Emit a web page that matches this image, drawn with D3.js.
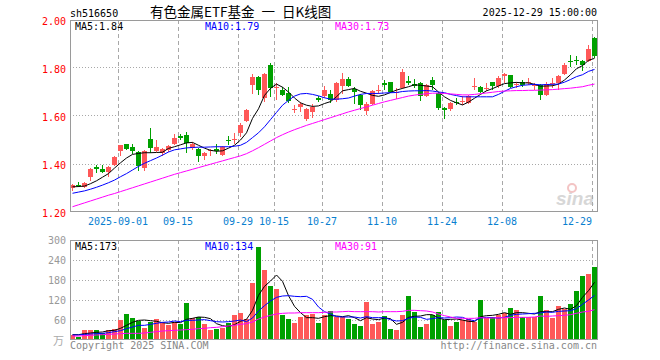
<!DOCTYPE html>
<html>
<head>
<meta charset="utf-8">
<script src="https://cdn.jsdelivr.net/npm/d3@7"></script>
<style>
  body { margin: 0; background: #fff; }
  text { font-family: "DejaVu Sans Mono", monospace; font-size: 10px; }
</style>
</head>
<body>
<div id="kline"></div>
<script>
// trading days shown (MM-DD), 2025-08-20 .. 2025-12-29
const days = [
  "08-20","08-21","08-22","08-25","08-26","08-27","08-28","08-29",
  "09-01","09-02","09-03","09-04","09-05","09-08","09-09","09-10","09-11","09-12",
  "09-15","09-16","09-17","09-18","09-19","09-22","09-23","09-24","09-25","09-26","09-29","09-30",
  "10-09","10-10","10-13","10-14","10-15","10-16","10-17","10-20","10-21","10-22","10-23","10-24",
  "10-27","10-28","10-29","10-30","10-31",
  "11-03","11-04","11-05","11-06","11-07","11-10","11-11","11-12","11-13","11-14",
  "11-17","11-18","11-19","11-20","11-21","11-24","11-25","11-26","11-27","11-28",
  "12-01","12-02","12-03","12-04","12-05","12-08","12-09","12-10","12-11","12-12",
  "12-15","12-16","12-17","12-18","12-19","12-22","12-23","12-24","12-25","12-26","12-29"
];

const open = [1.302,1.312,1.306,1.345,1.388,1.378,1.368,1.395,1.456,1.482,
  1.472,1.450,1.383,1.503,1.455,1.446,1.459,1.484,1.516,1.519,
  1.468,1.462,1.434,1.455,1.461,1.438,1.502,1.500,1.529,1.580,
  1.730,1.762,1.675,1.812,1.718,1.710,1.697,1.627,1.637,1.587,
  1.617,1.674,1.684,1.692,1.665,1.726,1.753,1.711,1.687,1.621,
  1.650,1.704,1.736,1.740,1.694,1.718,1.745,1.733,1.738,1.684,
  1.750,1.697,1.632,1.629,1.660,1.658,1.654,1.724,1.720,1.715,
  1.740,1.723,1.765,1.770,1.729,1.742,1.737,1.723,1.728,1.688,
  1.734,1.737,1.776,1.829,1.835,1.829,1.831,1.925];

const close = [1.312,1.308,1.320,1.380,1.380,1.366,1.388,1.428,1.478,1.462,
  1.456,1.393,1.455,1.466,1.470,1.462,1.474,1.509,1.508,1.487,
  1.483,1.434,1.445,1.460,1.455,1.472,1.499,1.503,1.562,1.624,
  1.763,1.709,1.773,1.716,1.721,1.686,1.663,1.630,1.650,1.628,
  1.636,1.668,1.710,1.665,1.738,1.753,1.726,1.702,1.647,1.650,
  1.703,1.710,1.730,1.701,1.700,1.782,1.739,1.727,1.684,1.728,
  1.730,1.633,1.626,1.655,1.654,1.661,1.683,1.727,1.702,1.718,
  1.723,1.760,1.775,1.719,1.735,1.730,1.742,1.728,1.688,1.735,
  1.737,1.766,1.812,1.825,1.831,1.813,1.881,1.851];

const high = [1.318,1.326,1.324,1.385,1.396,1.397,1.392,1.432,1.480,1.484,
  1.485,1.455,1.460,1.551,1.500,1.466,1.478,1.525,1.525,1.533,
  1.490,1.465,1.450,1.463,1.485,1.475,1.515,1.530,1.570,1.628,
  1.775,1.765,1.778,1.822,1.736,1.720,1.720,1.646,1.660,1.632,
  1.650,1.683,1.725,1.708,1.742,1.778,1.762,1.720,1.692,1.660,
  1.708,1.730,1.750,1.743,1.715,1.795,1.765,1.755,1.742,1.732,
  1.762,1.700,1.636,1.660,1.673,1.683,1.688,1.757,1.723,1.738,
  1.743,1.767,1.778,1.772,1.743,1.750,1.757,1.736,1.733,1.740,
  1.757,1.770,1.822,1.854,1.850,1.832,1.896,1.928];

const low = [1.288,1.304,1.302,1.330,1.362,1.362,1.347,1.390,1.432,1.458,
  1.440,1.370,1.372,1.445,1.452,1.434,1.452,1.480,1.500,1.447,
  1.458,1.410,1.417,1.434,1.440,1.435,1.480,1.485,1.514,1.575,
  1.690,1.688,1.660,1.680,1.667,1.683,1.655,1.611,1.618,1.580,
  1.590,1.657,1.674,1.655,1.660,1.690,1.720,1.650,1.625,1.603,
  1.645,1.690,1.708,1.695,1.672,1.712,1.730,1.715,1.664,1.680,
  1.710,1.625,1.588,1.620,1.646,1.645,1.650,1.710,1.695,1.703,
  1.708,1.716,1.738,1.715,1.716,1.722,1.729,1.708,1.667,1.683,
  1.715,1.708,1.772,1.805,1.812,1.789,1.826,1.840];

// volume, 万
const vol = [15,10,30,30,30,22,30,32,60,78,
  66,58,36,54,64,50,45,54,48,111,
  65,68,48,30,34,37,52,75,81,64,
  171,279,210,162,153,75,63,51,69,75,
  79,51,75,87,70,68,63,48,42,115,
  48,54,72,33,30,75,132,84,39,48,
  75,84,60,42,54,60,63,54,120,66,
  69,75,80,96,90,68,68,68,132,90,
  66,102,92,108,148,192,198,219];

const ma5 = [1.305,1.306,1.308,1.318,1.330,1.345,1.360,1.383,1.405,1.425,
  1.440,1.444,1.447,1.447,1.448,1.449,1.465,1.472,1.480,1.488,
  1.490,1.478,1.466,1.457,1.453,1.455,1.466,1.478,1.500,1.530,
  1.590,1.630,1.686,1.715,1.733,1.720,1.700,1.675,1.655,1.645,
  1.640,1.642,1.652,1.660,1.680,1.705,1.710,1.715,1.703,1.695,
  1.686,1.682,1.688,1.698,1.708,1.715,1.722,1.730,1.728,1.725,
  1.722,1.700,1.680,1.665,1.655,1.646,1.658,1.674,1.690,1.705,
  1.714,1.725,1.735,1.738,1.740,1.738,1.738,1.732,1.724,1.725,
  1.726,1.733,1.750,1.772,1.797,1.810,1.832,1.840];

const ma10 = [1.278,1.283,1.288,1.295,1.303,1.312,1.322,1.333,1.347,1.360,
  1.375,1.390,1.403,1.414,1.425,1.437,1.450,1.459,1.463,1.467,
  1.469,1.470,1.470,1.471,1.472,1.472,1.472,1.474,1.478,1.490,
  1.510,1.530,1.555,1.585,1.615,1.645,1.665,1.683,1.692,1.694,
  1.690,1.684,1.676,1.670,1.670,1.672,1.675,1.683,1.690,1.694,
  1.694,1.694,1.696,1.697,1.698,1.702,1.704,1.705,1.705,1.706,
  1.704,1.700,1.697,1.690,1.685,1.680,1.680,1.680,1.680,1.680,
  1.680,1.690,1.703,1.715,1.722,1.728,1.730,1.732,1.730,1.731,
  1.732,1.733,1.741,1.752,1.764,1.772,1.786,1.794];

const ma30 = [1.222,1.230,1.238,1.246,1.254,1.262,1.270,1.277,1.285,1.293,
  1.301,1.309,1.317,1.325,1.333,1.341,1.349,1.357,1.364,1.371,
  1.378,1.385,1.392,1.399,1.406,1.413,1.420,1.427,1.434,1.443,
  1.455,1.468,1.482,1.496,1.510,1.522,1.533,1.543,1.552,1.561,
  1.569,1.577,1.585,1.593,1.601,1.609,1.617,1.624,1.631,1.638,
  1.645,1.652,1.659,1.665,1.671,1.677,1.683,1.687,1.690,1.693,
  1.695,1.695,1.694,1.692,1.690,1.688,1.688,1.690,1.693,1.696,
  1.699,1.702,1.704,1.705,1.706,1.706,1.707,1.707,1.708,1.709,
  1.710,1.712,1.714,1.716,1.719,1.722,1.728,1.733];

const vma5 = [16,16,19,21,23,24,28,29,35,44,
  53,59,60,58,56,52,50,53,52,62,
  65,69,68,64,49,43,40,46,56,62,
  89,134,161,177,195,176,133,101,82,67,
  67,65,70,73,72,70,73,67,58,67,
  63,61,66,64,47,53,68,71,72,76,
  76,66,61,62,63,60,56,55,70,73,
  74,77,82,77,82,82,80,78,85,85,
  85,92,96,92,103,128,148,173];

const vma10 = [15,15,17,18,19,20,22,25,28,34,
  39,44,44,47,50,53,54,57,55,59,
  59,60,61,58,55,54,55,57,60,55,
  66,87,103,117,128,132,133,131,130,131,
  122,99,85,78,70,69,69,69,66,70,
  67,67,67,61,57,58,65,69,68,62,
  64,67,66,67,69,68,61,58,66,68,
  67,66,68,74,77,78,79,80,81,84,
  83,86,87,88,94,107,120,134];

const vma30 = [12,12,13,14,15,16,17,18,19,20,
  20,20,21,23,25,27,28,29,30,31,
  32,34,35,37,38,40,42,44,47,49,
  54,63,69,74,78,80,81,81,82,82,
  82,82,83,84,84,85,86,85,85,85,
  85,84,85,85,85,86,89,89,88,87,
  84,78,73,69,65,65,65,65,67,66,
  66,67,67,67,68,68,68,69,72,71,
  72,73,74,76,80,84,86,91];

const priceTicks = [1.2, 1.4, 1.6, 1.8, 2.0];
const volTicks = [60, 120, 180, 240, 300];
const dateTicks = ["2025-09-01","09-15","09-29","10-15","10-27","11-10","11-24","12-08","12-29"];

const width = 660, height = 360;
const left = 70, right = 597;
const main = { top: 20, bottom: 212 };
const sub = { top: 240, bottom: 340 };

const upColor = "#ff5858", downColor = "#00a000";
const gridColor = "#a8a8a8", frameColor = "#9a9a9a";

const svg = d3.select("#kline")
  .append("svg")
  .attr("width", width)
  .attr("height", height)
  .attr("viewBox", [0, 0, width, height]);

const idx = d3.range(days.length);

const x = d3.scaleBand()
  .domain(idx)
  .range([left, left + 6 * days.length]);

const y = d3.scaleLinear()
  .domain([1.2, 2.0])
  .range([main.bottom, main.top]);

const yv = d3.scaleLinear()
  .domain([0, 300])
  .range([sub.bottom, sub.top]);

const crisp = v => Math.floor(v) + 0.5;
const bw = x.bandwidth() - 1;
const cx = i => x(i) + Math.floor(bw / 2) + 0.5;

// gridlines
const grid = svg.append("g").attr("shape-rendering", "crispEdges");

const tickIdx = dateTicks.map(t => days.indexOf(t.slice(-5)));

[main, sub].forEach(p => {
  grid.append("g")
    .selectAll("line")
    .data(tickIdx)
    .join("line")
    .attr("x1", i => crisp(x(i)))
    .attr("x2", i => crisp(x(i)))
    .attr("y1", p.top)
    .attr("y2", p.bottom)
    .attr("stroke", gridColor)
    .attr("stroke-dasharray", "4,3");
});

grid.append("g")
  .selectAll("line")
  .data(priceTicks.slice(1, -1))
  .join("line")
  .attr("x1", left)
  .attr("x2", right)
  .attr("y1", d => crisp(y(d)))
  .attr("y2", d => crisp(y(d)))
  .attr("stroke", gridColor)
  .attr("stroke-dasharray", "1,2");

grid.append("g")
  .selectAll("line")
  .data(volTicks.slice(0, -1))
  .join("line")
  .attr("x1", left)
  .attr("x2", right)
  .attr("y1", d => crisp(yv(d)))
  .attr("y2", d => crisp(yv(d)))
  .attr("stroke", gridColor)
  .attr("stroke-dasharray", "1,2");

// sina watermark
const mark = svg.append("g").attr("opacity", 0.5);
mark.append("text")
  .attr("x", 594)
  .attr("y", 205)
  .attr("text-anchor", "end")
  .style("font-family", "Liberation Sans, sans-serif")
  .style("font-size", "19px")
  .style("font-weight", "bold")
  .style("font-style", "italic")
  .attr("fill", "#b0b0b0")
  .text("sina");
mark.append("circle")
  .attr("cx", 572)
  .attr("cy", 188)
  .attr("r", 4)
  .attr("fill", "none")
  .attr("stroke", "#e88a8a")
  .attr("stroke-width", 2);

// candles
const isUp = i => close[i] >= open[i];

const candles = svg.append("g")
  .attr("shape-rendering", "crispEdges")
  .selectAll("g")
  .data(idx)
  .join("g")
  .attr("fill", i => isUp(i) ? upColor : downColor)
  .attr("stroke", i => isUp(i) ? upColor : downColor);

candles.append("line")
  .attr("x1", cx)
  .attr("x2", cx)
  .attr("y1", i => Math.round(y(high[i])))
  .attr("y2", i => Math.round(y(low[i])));

candles.append("rect")
  .attr("stroke", "none")
  .attr("x", i => x(i))
  .attr("width", bw)
  .attr("y", i => Math.round(y(Math.max(open[i], close[i]))))
  .attr("height", i => Math.max(1, Math.round(y(Math.min(open[i], close[i]))) - Math.round(y(Math.max(open[i], close[i])))));

// volume bars
svg.append("g")
  .attr("shape-rendering", "crispEdges")
  .selectAll("rect")
  .data(idx)
  .join("rect")
  .attr("x", i => x(i))
  .attr("width", bw)
  .attr("y", i => Math.round(yv(vol[i])))
  .attr("height", i => sub.bottom - Math.round(yv(vol[i])))
  .attr("fill", i => isUp(i) ? upColor : downColor);

// moving averages
const maLine = (arr, sc) => d3.line()
  .x(i => cx(i))
  .y(i => sc(arr[i]))(idx);

const maColors = ["#000000", "#0000ff", "#ff00ff"];

[[ma5, ma10, ma30, y], [vma5, vma10, vma30, yv]].forEach(set => {
  set.slice(0, 3).forEach((arr, k) => {
    svg.append("path")
      .attr("d", maLine(arr, set[3]))
      .attr("fill", "none")
      .attr("stroke", maColors[k])
      .attr("stroke-width", 1);
  });
});

// frames
[main, sub].forEach(p => {
  svg.append("rect")
    .attr("x", left + 0.5)
    .attr("y", p.top + 0.5)
    .attr("width", right - left)
    .attr("height", p.bottom - p.top - 1)
    .attr("fill", "none")
    .attr("stroke", frameColor)
    .attr("shape-rendering", "crispEdges");
});

// axis labels
svg.append("g")
  .selectAll("text")
  .data(priceTicks)
  .join("text")
  .attr("x", 66)
  .attr("y", d => y(d) + 4.5)
  .attr("text-anchor", "end")
  .attr("fill", "#ff0000")
  .text(d => d.toFixed(2));

svg.append("g")
  .selectAll("text")
  .data(volTicks)
  .join("text")
  .attr("x", 66)
  .attr("y", d => yv(d) + 4)
  .attr("text-anchor", "end")
  .attr("fill", "#999")
  .text(d => d);

svg.append("text")
  .attr("x", 64)
  .attr("y", 345)
  .attr("text-anchor", "end")
  .attr("fill", "#aaa")
  .style("font-family", "Noto Sans CJK SC")
  .style("font-size", "11px")
  .text("万");

svg.append("g")
  .selectAll("text")
  .data(dateTicks)
  .join("text")
  .attr("x", (t, k) => Math.min(x(tickIdx[k]), right - 20))
  .attr("y", 225)
  .attr("text-anchor", "middle")
  .attr("fill", "#0a7fd0")
  .text(t => t);

// titles
svg.append("text").attr("x", 70).attr("y", 16.5).text("sh516650");
svg.append("text")
  .attr("x", 150)
  .attr("y", 17)
  .style("font-family", "Noto Sans CJK SC")
  .style("font-size", "13.5px")
  .style("word-spacing", "4px")
  .text("有色金属ETF基金 一 日K线图");
svg.append("text")
  .attr("x", right)
  .attr("y", 16)
  .attr("text-anchor", "end")
  .text("2025-12-29 15:00:00");

// MA legends
const last = days.length - 1;
const legendX = [75, 205, 335];
[["MA5:", ma5], ["MA10:", ma10], ["MA30:", ma30]].forEach((d, k) => {
  svg.append("text")
    .attr("x", legendX[k])
    .attr("y", 29.5)
    .attr("fill", maColors[k])
    .text(d[0] + (Math.floor(d[1][last] * 100) / 100).toFixed(2));
});
[["MA5:", vma5], ["MA10:", vma10], ["MA30:", vma30]].forEach((d, k) => {
  svg.append("text")
    .attr("x", legendX[k])
    .attr("y", 250)
    .attr("fill", maColors[k])
    .text(d[0] + d[1][last]);
});

// footer
svg.append("text")
  .attr("x", 70)
  .attr("y", 349)
  .attr("fill", "#888")
  .text("Copyright 2025 SINA.COM");
svg.append("text")
  .attr("x", right)
  .attr("y", 349)
  .attr("text-anchor", "end")
  .attr("fill", "#888")
  .text("http://finance.sina.com.cn");
</script>
</body>
</html>
